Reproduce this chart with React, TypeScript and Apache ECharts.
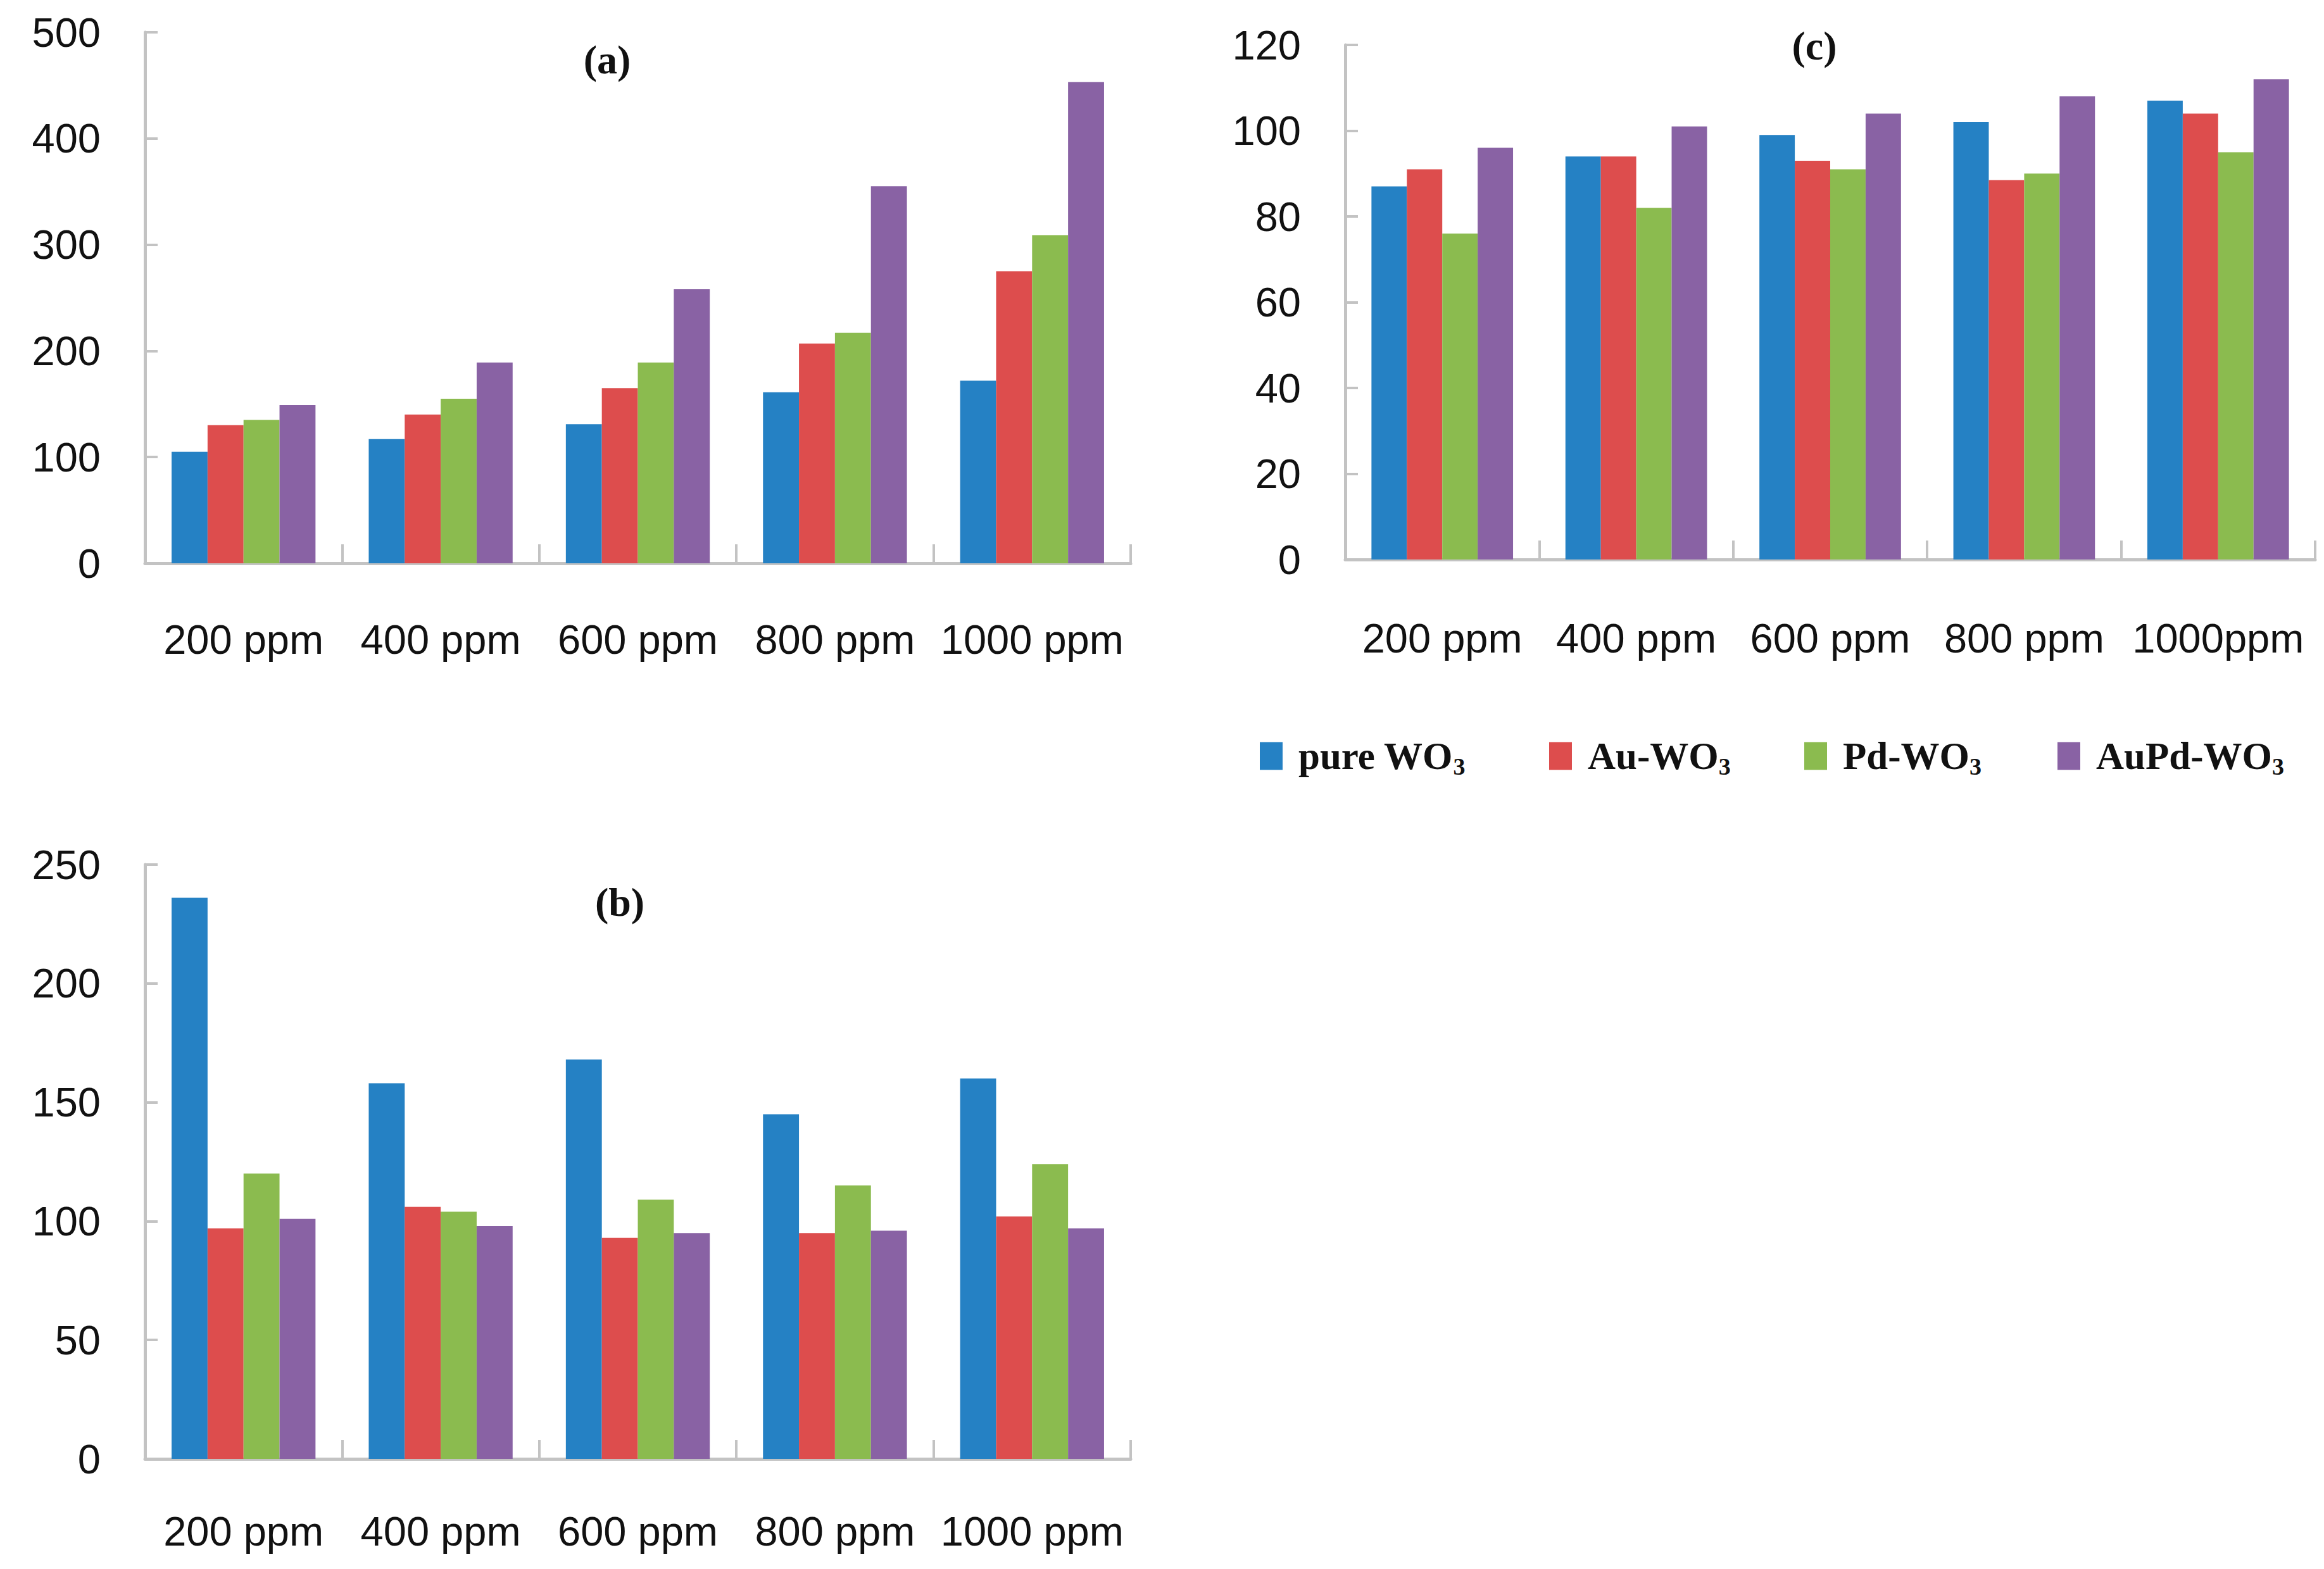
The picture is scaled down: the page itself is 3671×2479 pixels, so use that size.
import React, { useEffect, useRef } from "react";
import * as echarts from "echarts";

const categoriesAB = ["200 ppm", "400 ppm", "600 ppm", "800 ppm", "1000 ppm"];
const categoriesC = ["200 ppm", "400 ppm", "600 ppm", "800 ppm", "1000ppm"];
const seriesNames = ["pure WO3", "Au-WO3", "Pd-WO3", "AuPd-WO3"];
const seriesColors = ["#2581C4", "#DD4D4D", "#8BBB4F", "#8962A4"];
const panelTitles = ["(a)", "(b)", "(c)"];

// Panel (a)
const aPure = [105, 117, 131, 161, 172];
const aAu = [130, 140, 165, 207, 275];
const aPd = [135, 155, 189, 217, 309];
const aAuPd = [149, 189, 258, 355, 453];

// Panel (b)
const bPure = [236, 158, 168, 145, 160];
const bAu = [97, 106, 93, 95, 102];
const bPd = [120, 104, 109, 115, 124];
const bAuPd = [101, 98, 95, 96, 97];

// Panel (c)
const cPure = [87, 94, 99, 102, 107];
const cAu = [91, 94, 93, 88.5, 104];
const cPd = [76, 82, 91, 90, 95];
const cAuPd = [96, 101, 104, 108, 112];

const yTicksA = { min: 0, max: 500, interval: 100 };
const yTicksB = { min: 0, max: 250, interval: 50 };
const yTicksC = { min: 0, max: 120, interval: 20 };

const AXIS_COLOR = "#c3c3c3";
const SANS = "'Liberation Sans', Arial, sans-serif";
const SERIF = "'Liberation Serif', 'Times New Roman', serif";

function xAxis(gridIndex: number, data: string[], margin: number) {
  return {
    type: "category",
    gridIndex,
    data,
    boundaryGap: true,
    axisLine: { show: true, lineStyle: { color: AXIS_COLOR, width: 5 } },
    axisTick: { show: true, inside: true, length: 30, lineStyle: { color: AXIS_COLOR, width: 4 } },
    axisLabel: { interval: 0, hideOverlap: false, margin, color: "#111", fontSize: 65, fontFamily: SANS },
    splitLine: { show: false },
  };
}

function yAxis(gridIndex: number, t: { min: number; max: number; interval: number }) {
  return {
    type: "value",
    gridIndex,
    min: t.min,
    max: t.max,
    interval: t.interval,
    axisLine: { show: true, lineStyle: { color: AXIS_COLOR, width: 5 } },
    axisTick: { show: true, inside: true, length: 20, lineStyle: { color: AXIS_COLOR, width: 4 } },
    axisLabel: { margin: 70, color: "#111", fontSize: 65, fontFamily: SANS },
    splitLine: { show: false },
  };
}

export default function App() {
  const ref = useRef<HTMLDivElement>(null);

  useEffect(() => {
    if (!ref.current) return;
    const chart = echarts.init(ref.current, undefined, { renderer: "svg" });

    const panels = [
      [aPure, aAu, aPd, aAuPd],
      [bPure, bAu, bPd, bAuPd],
      [cPure, cAu, cPd, cAuPd],
    ];

    const series: any[] = [];
    panels.forEach((vals, gi) => {
      vals.forEach((arr, si) => {
        series.push({
          type: "bar",
          name: seriesNames[si],
          xAxisIndex: gi,
          yAxisIndex: gi,
          data: arr,
          barGap: "0%",
          barCategoryGap: "27%",
          itemStyle: { color: seriesColors[si] },
        });
      });
    });

    const legendLefts = [1990, 2447, 2850, 3250];
    const legends = seriesNames.map((n, i) => ({
      data: [n],
      left: legendLefts[i],
      top: 1164,
      padding: 0,
      icon: "rect",
      itemWidth: 36,
      itemHeight: 44,
      selectedMode: false,
      formatter: (name: string) => {
        const base = name.replace(/3$/, "");
        return "{g| }{n|" + base + "}{s|3}";
      },
      textStyle: {
        rich: {
          g: { width: 20, fontSize: 10 },
          n: { fontFamily: SERIF, fontWeight: "bold", fontSize: 61, lineHeight: 70, color: "#111" },
          s: { fontFamily: SERIF, fontWeight: "bold", fontSize: 38, lineHeight: 38, verticalAlign: "bottom", color: "#111" },
        },
      },
    }));

    const titlePos = [
      [959, 94],
      [979, 1425],
      [2866, 72],
    ];

    chart.setOption({
      animation: false,
      backgroundColor: "#ffffff",
      legend: legends,
      grid: [
        { left: 229, top: 51, width: 1557, height: 839 },
        { left: 229, top: 1366, width: 1557, height: 939 },
        { left: 2125, top: 71, width: 1532, height: 813 },
      ],
      xAxis: [xAxis(0, categoriesAB, 88), xAxis(1, categoriesAB, 82), xAxis(2, categoriesC, 92)],
      yAxis: [yAxis(0, yTicksA), yAxis(1, yTicksB), yAxis(2, yTicksC)],
      series,
      graphic: panelTitles.map((t, i) => ({
        type: "text",
        x: titlePos[i][0],
        y: titlePos[i][1],
        style: {
          text: t,
          fontFamily: SERIF,
          fontWeight: "bold",
          fontSize: 64,
          fill: "#111",
          textAlign: "center",
          textVerticalAlign: "middle",
        },
      })),
    });

    return () => chart.dispose();
  }, []);

  return (
    <div
      ref={ref}
      style={{ position: "absolute", left: 0, top: 0, width: 3671, height: 2479, background: "#fff" }}
    />
  );
}
